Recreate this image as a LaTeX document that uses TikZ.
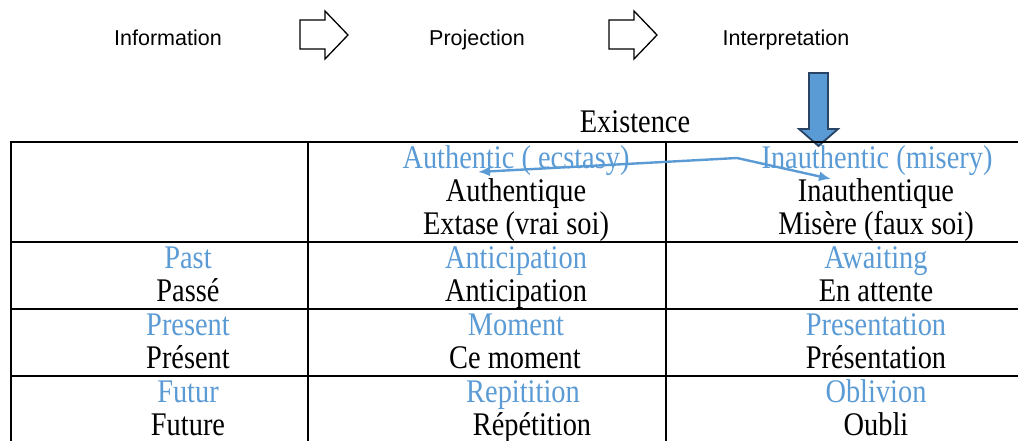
\documentclass[tikz,border=0pt]{standalone}
\usepackage{fontspec}
\setmainfont[FakeStretch=0.86]{Liberation Serif}
\newfontfamily\topfont{Liberation Sans}
\usepackage{tikz}
\usepackage{xcolor}
\usetikzlibrary{arrows.meta}

\definecolor{wordblue}{HTML}{5B9BD5}
\definecolor{navyedge}{HTML}{2A4466}

\tikzset{
    eng/.style={anchor=base, inner sep=0pt, text=wordblue, font=\fontsize{33}{38}\selectfont},
    fr/.style={anchor=base, inner sep=0pt, text=black, font=\fontsize{33}{38}\selectfont},
    flow/.style={anchor=base, inner sep=0pt, font=\topfont\fontsize{21.5}{25}\selectfont},
    grid/.style={line width=1.6pt, black},
    blockarrow/.style={draw=black, line width=1.3pt, fill=white, line join=miter},
    pointer/.style={wordblue, line width=2.4pt, -{Latex[length=12pt, width=10pt]}}
}

\begin{document}
\begin{tikzpicture}[x=1pt, y=-1pt]
        \useasboundingbox (0,0) rectangle (1018,441);

        % top row
        \node[flow] (info) at (168,46) {Information};
        \node[flow] (proj) at (477,46) {Projection};
        \node[flow] (interp) at (786,46) {Interpretation};
        \draw[blockarrow] (300,20) -- (325,20) -- (325,11) -- (348,35)
            -- (325,59) -- (325,49) -- (300,49) -- cycle;
        \draw[blockarrow] (609,20) -- (634,20) -- (634,11) -- (657,35)
            -- (634,59) -- (634,49) -- (609,49) -- cycle;

        % big down arrow
        \draw[fill=wordblue, draw=navyedge, line width=1.8pt] (809,73) -- (828,73) -- (828,129)
            -- (838,129) -- (818.5,146) -- (799,129) -- (809,129) -- cycle;

        \node[fr] (exist) at (635,133) {Existence};

        % table
        \draw[grid] (1018,142) -- (11,142) -- (11,441);
        \draw[grid] (308,142) -- (308,441)
            (666,142) -- (666,441);
        \draw[grid] (11,242) -- (1018,242)
            (11,309) -- (1018,309)
            (11,376) -- (1018,376);

        \node[eng] (auth) at (516,168) {Authentic ( ecstasy)};
        \node[fr] (authfr) at (516,201) {Authentique};
        \node[fr] (extase) at (516,234) {Extase (vrai soi)};
        \node[eng] (inauth) at (877,168) {Inauthentic (misery)};
        \node[fr] (inauthfr) at (876,201) {Inauthentique};
        \node[fr] (misere) at (876,234) {Misère (faux soi)};

        \node[eng] (past) at (188,268) {Past};
        \node[fr] (passe) at (188,301) {Passé};
        \node[eng] (antic) at (516,268) {Anticipation};
        \node[fr] (anticfr) at (516,301) {Anticipation};
        \node[eng] (await) at (876,268) {Awaiting};
        \node[fr] (attente) at (876,301) {En attente};

        \node[eng] (present) at (188,335) {Present};
        \node[fr] (presentfr) at (188,368) {Présent};
        \node[eng] (moment) at (516,335) {Moment};
        \node[fr] (cemoment) at (515,368) {Ce moment};
        \node[eng] (presentation) at (876,335) {Presentation};
        \node[fr] (presentationfr) at (876,368) {Présentation};

        \node[eng] (futur) at (188,402) {Futur};
        \node[fr] (future) at (188,435) {Future};
        \node[eng] (repit) at (523,402) {Repitition};
        \node[fr] (repet) at (532,435) {Répétition};
        \node[eng] (oblivion) at (876,402) {Oblivion};
        \node[fr] (oubli) at (876,435) {Oubli};

        % split pointers
        \coordinate (fork) at (737,158);
        \coordinate (lefttip) at (478,172);
        \coordinate (righttip) at (831,179);
        \draw[pointer] (fork) -- (lefttip);
        \draw[pointer] (fork) -- (righttip);
    \end{tikzpicture}
\end{document}
